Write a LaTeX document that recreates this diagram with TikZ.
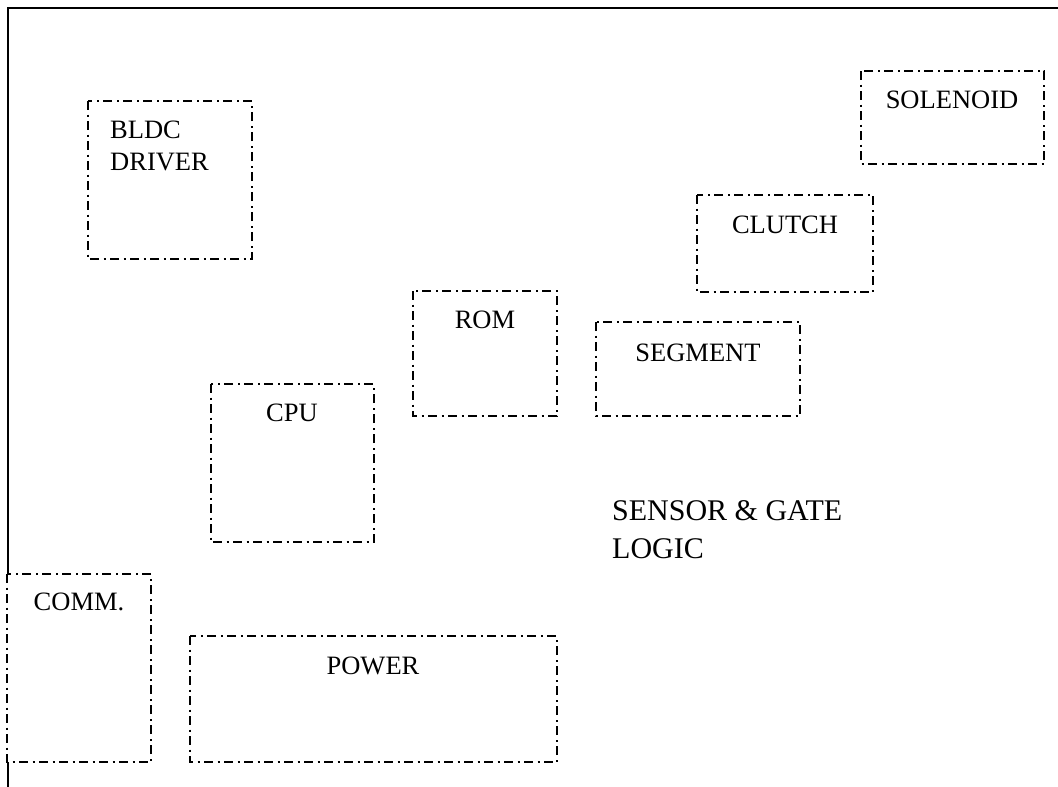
\documentclass[tikz,border=0pt]{standalone}
\usepackage{fontspec}
\setmainfont{Liberation Serif}
\begin{document}
\begin{tikzpicture}[x=1pt,y=-1pt,
  blk/.style={draw=black, fill=white, line width=2pt,
    dash pattern=on 9pt off 4.5pt on 2pt off 4.5pt, inner sep=0pt},
  lbl/.style={inner sep=0pt, font=\fontsize{26.5}{32}\selectfont},
  frame/.style={line width=2.4pt}]
\useasboundingbox (0,0) rectangle (1058,787);
% frame
\coordinate (ftl) at (8,8);
\coordinate (ftr) at (1060,8);
\coordinate (fbl) at (8,790);
\draw[frame] (ftr) -- (ftl) -- (fbl);
% boxes
\path[blk] (88,101) rectangle (252,259) coordinate (bldcbox);
\path[blk] (861,71) rectangle (1044,164) coordinate (solbox);
\path[blk] (697,195) rectangle (873,292) coordinate (clubox);
\path[blk] (413,291) rectangle (557,416) coordinate (rombox);
\path[blk] (596,322) rectangle (800,416) coordinate (segbox);
\path[blk] (211,384) rectangle (374,542) coordinate (cpubox);
\path[blk] (7,574) rectangle (151,762) coordinate (commbox);
\path[blk] (190,636) rectangle (557,762) coordinate (powbox);
% labels
\node[lbl, anchor=north west, align=left] (bldc) at (110,121) {BLDC\\DRIVER};
\node[lbl, anchor=base] (sol) at (952,108) {SOLENOID};
\node[lbl, anchor=base] (clu) at (785,233) {CLUTCH};
\node[lbl, anchor=base] (rom) at (485,328) {ROM};
\node[lbl, anchor=base] (seg) at (698,361) {SEGMENT};
\node[lbl, anchor=base] (cpu) at (292,421) {CPU};
\node[lbl, anchor=base] (comm) at (79,610) {COMM.};
\node[lbl, anchor=base] (pow) at (373,674) {POWER};
\node[inner sep=0pt, font=\fontsize{30}{38}\selectfont, anchor=north west, align=left] (sens) at (612,500) {SENSOR \& GATE\\LOGIC};
\end{tikzpicture}
\end{document}
